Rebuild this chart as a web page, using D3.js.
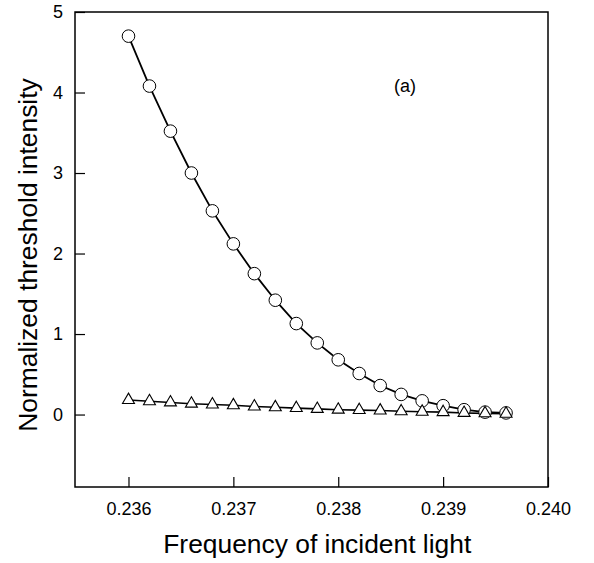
<!DOCTYPE html>
<html>
<head>
<meta charset="utf-8">
<script src="https://cdn.jsdelivr.net/npm/d3@7"></script>
<style>
  body { margin: 0; background: #fff; }
  text { font-family: Arial, "Liberation Sans", sans-serif; fill: #000; }
</style>
</head>
<body>
<svg id="chart" width="594" height="563"></svg>
<script>
// frequency values (x) shared by both series
const freqs = [0.2360, 0.2362, 0.2364, 0.2366, 0.2368, 0.2370, 0.2372, 0.2374, 0.2376,
    0.2378, 0.2380, 0.2382, 0.2384, 0.2386, 0.2388, 0.2390, 0.2392, 0.2394, 0.2396];
// open circles
const circleVals = [4.70, 4.08, 3.52, 3.00, 2.53, 2.12, 1.75, 1.42, 1.13,
    0.89, 0.68, 0.51, 0.36, 0.25, 0.17, 0.11, 0.06, 0.03, 0.02];
// open triangles
const triangleVals = [0.18, 0.165, 0.15, 0.135, 0.125, 0.115, 0.10, 0.09, 0.08,
    0.07, 0.06, 0.055, 0.05, 0.04, 0.035, 0.03, 0.02, 0.015, 0.01];
const xTicks = [0.236, 0.237, 0.238, 0.239, 0.240];
const yTicks = [0, 1, 2, 3, 4, 5];

const margin = {top: 12, right: 46, bottom: 76, left: 75},
    width = 594 - margin.left - margin.right,
    height = 563 - margin.top - margin.bottom;

const svg = d3.select("#chart")
    .append("g")
    .attr("transform", `translate(${margin.left}, ${margin.top})`);

const x = d3.scaleLinear().domain([0.23549, 0.2400]).range([0, width]);
const y = d3.scaleLinear().domain([-0.9, 5]).range([height, 0]);

// frame
svg.append("rect")
    .attr("width", width).attr("height", height)
    .attr("fill", "none").attr("stroke", "#000").attr("stroke-width", 1.5);

// x axis, ticks pointing inward
const xAxis = svg.append("g")
    .attr("transform", `translate(0, ${height})`)
    .call(d3.axisBottom(x).tickValues(xTicks).tickFormat(d3.format(".3f"))
        .tickSizeInner(-10).tickSizeOuter(0).tickPadding(15));
xAxis.select(".domain").remove();
xAxis.selectAll("line").attr("stroke-width", 1.2);
xAxis.selectAll("text").style("font-size", "18px").attr("fill", "#000");

// y axis
const yAxis = svg.append("g")
    .call(d3.axisLeft(y).tickValues(yTicks).tickFormat(d3.format("d"))
        .tickSizeInner(-10).tickSizeOuter(0).tickPadding(12));
yAxis.select(".domain").remove();
yAxis.selectAll("line").attr("stroke-width", 1.2);
yAxis.selectAll("text").style("font-size", "18px").attr("fill", "#000");

// axis titles
svg.append("text")
    .attr("x", x(0.2378)).attr("y", height + 66)
    .attr("text-anchor", "middle")
    .style("font-size", "26.4px")
    .text("Frequency of incident light");

svg.append("text")
    .attr("transform", `translate(${-38}, 243) rotate(-90)`)
    .attr("text-anchor", "middle")
    .style("font-size", "26.4px")
    .text("Normalized threshold intensity");

svg.append("text")
    .attr("x", 319).attr("y", 80)
    .style("font-size", "18px")
    .text("(a)");

const line = d3.line()
    .x((d, i) => x(freqs[i]))
    .y(d => y(d));

// triangle series
svg.append("path")
    .datum(triangleVals)
    .attr("d", line)
    .attr("fill", "none").attr("stroke", "#000").attr("stroke-width", 1.6);

// circle series
svg.append("path")
    .datum(circleVals)
    .attr("d", line)
    .attr("fill", "none").attr("stroke", "#000").attr("stroke-width", 1.8);

svg.selectAll(".circ")
    .data(circleVals)
    .enter()
    .append("circle")
    .attr("class", "circ")
    .attr("cx", (d, i) => x(freqs[i]))
    .attr("cy", d => y(d))
    .attr("r", 6.3)
    .attr("fill", "#fff").attr("stroke", "#000").attr("stroke-width", 1);

const tri = d3.symbol().type(d3.symbolTriangle).size(62);
svg.selectAll(".tri")
    .data(triangleVals)
    .enter()
    .append("path")
    .attr("class", "tri")
    .attr("d", tri)
    .attr("transform", (d, i) => `translate(${x(freqs[i])}, ${y(d)})`)
    .attr("fill", "#fff").attr("stroke", "#000").attr("stroke-width", 1.1);
</script>
</body>
</html>
